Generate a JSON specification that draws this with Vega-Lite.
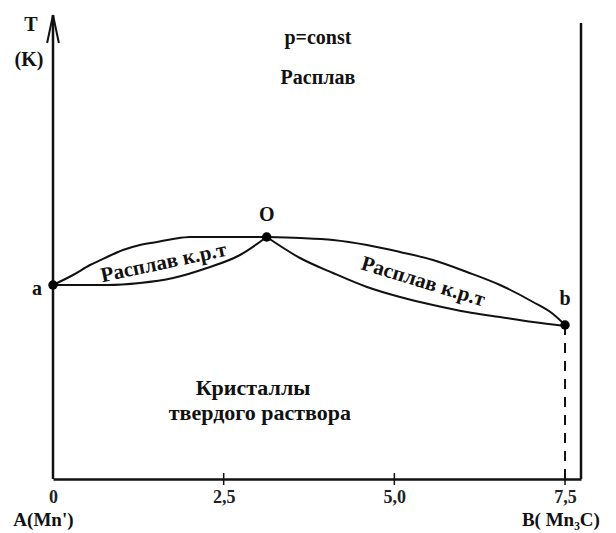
{
  "$schema": "https://vega.github.io/schema/vega-lite/v6.json",
  "width": 528,
  "height": 464,
  "autosize": "none",
  "padding": {"left": 53, "top": 15, "right": 35, "bottom": 54},
  "background": "white",
  "config": {"view": {"stroke": null}, "font": "Liberation Serif"},
  "datasets": {
    "curves": [
      {"curve": "upperL", "i": 0, "x": 0, "T": 194},
      {"curve": "upperL", "i": 1, "x": 0.293, "T": 204},
      {"curve": "upperL", "i": 2, "x": 0.542, "T": 214},
      {"curve": "upperL", "i": 3, "x": 0.791, "T": 222},
      {"curve": "upperL", "i": 4, "x": 1.025, "T": 229},
      {"curve": "upperL", "i": 5, "x": 1.274, "T": 234},
      {"curve": "upperL", "i": 6, "x": 1.523, "T": 237},
      {"curve": "upperL", "i": 7, "x": 1.758, "T": 240},
      {"curve": "upperL", "i": 8, "x": 2.007, "T": 242},
      {"curve": "upperL", "i": 9, "x": 2.256, "T": 242},
      {"curve": "upperL", "i": 10, "x": 2.49, "T": 242},
      {"curve": "upperL", "i": 11, "x": 2.739, "T": 242},
      {"curve": "upperL", "i": 12, "x": 3.13, "T": 242},
      {"curve": "lowerL", "i": 0, "x": 0, "T": 194},
      {"curve": "lowerL", "i": 1, "x": 0.293, "T": 194},
      {"curve": "lowerL", "i": 2, "x": 0.791, "T": 194},
      {"curve": "lowerL", "i": 3, "x": 1.274, "T": 196},
      {"curve": "lowerL", "i": 4, "x": 1.758, "T": 201},
      {"curve": "lowerL", "i": 5, "x": 2.256, "T": 211},
      {"curve": "lowerL", "i": 6, "x": 2.739, "T": 224},
      {"curve": "lowerL", "i": 7, "x": 3.13, "T": 242},
      {"curve": "upperR", "i": 0, "x": 3.13, "T": 242},
      {"curve": "upperR", "i": 1, "x": 3.618, "T": 241},
      {"curve": "upperR", "i": 2, "x": 4.101, "T": 239},
      {"curve": "upperR", "i": 3, "x": 4.599, "T": 234},
      {"curve": "upperR", "i": 4, "x": 5.083, "T": 227},
      {"curve": "upperR", "i": 5, "x": 5.566, "T": 219},
      {"curve": "upperR", "i": 6, "x": 6.064, "T": 207},
      {"curve": "upperR", "i": 7, "x": 6.548, "T": 194},
      {"curve": "upperR", "i": 8, "x": 7.031, "T": 177},
      {"curve": "upperR", "i": 9, "x": 7.324, "T": 165},
      {"curve": "upperR", "i": 10, "x": 7.44, "T": 158},
      {"curve": "upperR", "i": 11, "x": 7.5, "T": 154},
      {"curve": "lowerR", "i": 0, "x": 3.13, "T": 242},
      {"curve": "lowerR", "i": 1, "x": 3.618, "T": 221},
      {"curve": "lowerR", "i": 2, "x": 4.101, "T": 206},
      {"curve": "lowerR", "i": 3, "x": 4.599, "T": 192},
      {"curve": "lowerR", "i": 4, "x": 5.083, "T": 182},
      {"curve": "lowerR", "i": 5, "x": 5.566, "T": 174},
      {"curve": "lowerR", "i": 6, "x": 6.064, "T": 167},
      {"curve": "lowerR", "i": 7, "x": 6.548, "T": 162},
      {"curve": "lowerR", "i": 8, "x": 7.031, "T": 157},
      {"curve": "lowerR", "i": 9, "x": 7.5, "T": 153}
    ],
    "points": [
      {"name": "a", "x": 0, "T": 194},
      {"name": "O", "x": 3.13, "T": 242},
      {"name": "b", "x": 7.5, "T": 154}
    ],
    "frame": [
      {"side": "left", "x": 0, "T0": 0, "T1": 464},
      {"side": "right", "x": 7.734, "T0": 0, "T1": 456}
    ],
    "ticks": [
      {"x": 2.5, "T0": -6, "T1": 6},
      {"x": 5, "T0": -6, "T1": 6},
      {"x": 7.5, "T0": -6, "T1": 6}
    ],
    "dash": [
      {"x": 7.5, "T0": 0, "T1": 154}
    ],
    "arrow": [
      {"x": 0, "T": 450}
    ],
    "labels": [
      {"group": "plain", "text": "T", "x": -0.322, "T": 454},
      {"group": "plain", "text": "(K)", "x": -0.352, "T": 419},
      {"group": "plain", "text": "p=const", "x": 3.88, "T": 441},
      {"group": "plain", "text": "Расплав", "x": 3.88, "T": 401},
      {"group": "plain", "text": "O", "x": 3.13, "T": 264},
      {"group": "plain", "text": "a", "x": -0.234, "T": 190},
      {"group": "plain", "text": "b", "x": 7.5, "T": 180},
      {"group": "bottom", "text": "A(Mn')", "x": -0.14, "T": -41},
      {"group": "bottom", "text": "B( Mn₃C)", "x": 7.44, "T": -41},
      {"group": "big", "text": "Кристаллы", "x": 2.93, "T": 91},
      {"group": "big", "text": "твердого раствора", "x": 3.03, "T": 66},
      {"group": "left", "text": "Расплав к.р.т", "x": 1.62, "T": 216},
      {"group": "right", "text": "Расплав к.р.т", "x": 5.42, "T": 197}
    ]
  },
  "layer": [
    {
      "data": {"name": "frame"},
      "mark": {"type": "rule", "strokeWidth": 2.5, "color": "#111"},
      "encoding": {
        "x": {"field": "x", "type": "quantitative", "scale": {"domain": [0, 7.734], "nice": false, "zero": false},
          "axis": {"values": [0, 2.5, 5, 7.5], "labelExpr": "datum.value == 0 ? '0' : replace(format(datum.value, '.1f'), '.', ',')",
            "title": null, "grid": false, "ticks": false, "domainColor": "#111", "domainWidth": 2.5,
            "labelFont": "Liberation Serif", "labelFontSize": 18, "labelFontWeight": "bold", "labelColor": "#222", "labelPadding": 9, "labelFlush": false}},
        "y": {"field": "T0", "type": "quantitative", "scale": {"domain": [0, 464], "nice": false, "zero": false}, "axis": null},
        "y2": {"field": "T1"}
      }
    },
    {
      "data": {"name": "ticks"},
      "mark": {"type": "rule", "strokeWidth": 1.5, "color": "#111"},
      "encoding": {
        "x": {"field": "x", "type": "quantitative"},
        "y": {"field": "T0", "type": "quantitative"},
        "y2": {"field": "T1"}
      }
    },
    {
      "data": {"name": "dash"},
      "mark": {"type": "rule", "strokeWidth": 2, "color": "#111", "strokeDash": [10, 8]},
      "encoding": {
        "x": {"field": "x", "type": "quantitative"},
        "y": {"field": "T0", "type": "quantitative"},
        "y2": {"field": "T1"}
      }
    },
    {
      "data": {"name": "curves"},
      "mark": {"type": "line", "interpolate": "monotone", "strokeWidth": 2, "color": "#111"},
      "encoding": {
        "x": {"field": "x", "type": "quantitative"},
        "y": {"field": "T", "type": "quantitative"},
        "detail": {"field": "curve"},
        "order": {"field": "i"}
      }
    },
    {
      "data": {"name": "points"},
      "mark": {"type": "point", "filled": true, "size": 90, "color": "#000", "opacity": 1},
      "encoding": {
        "x": {"field": "x", "type": "quantitative"},
        "y": {"field": "T", "type": "quantitative"}
      }
    },
    {
      "data": {"name": "arrow"},
      "mark": {"type": "point", "shape": "M0,-1L-0.42,1M0,-1L0.42,1M0,-1L0,1", "size": 784, "filled": false, "stroke": "#111", "strokeWidth": 2, "opacity": 1},
      "encoding": {
        "x": {"field": "x", "type": "quantitative"},
        "y": {"field": "T", "type": "quantitative"}
      }
    },
    {
      "data": {"name": "labels"},
      "transform": [{"filter": "datum.group == 'plain'"}],
      "mark": {"type": "text", "font": "Liberation Serif", "fontSize": 20, "fontWeight": "bold", "color": "#111", "baseline": "middle", "align": "center"},
      "encoding": {
        "x": {"field": "x", "type": "quantitative"},
        "y": {"field": "T", "type": "quantitative"},
        "text": {"field": "text"}
      }
    },
    {
      "data": {"name": "labels"},
      "transform": [{"filter": "datum.group == 'bottom'"}],
      "mark": {"type": "text", "font": "Liberation Serif", "fontSize": 19, "fontWeight": "bold", "color": "#111", "baseline": "middle", "align": "center"},
      "encoding": {
        "x": {"field": "x", "type": "quantitative"},
        "y": {"field": "T", "type": "quantitative"},
        "text": {"field": "text"}
      }
    },
    {
      "data": {"name": "labels"},
      "transform": [{"filter": "datum.group == 'big'"}],
      "mark": {"type": "text", "font": "Liberation Serif", "fontSize": 22, "fontWeight": "bold", "color": "#111", "baseline": "middle", "align": "center"},
      "encoding": {
        "x": {"field": "x", "type": "quantitative"},
        "y": {"field": "T", "type": "quantitative"},
        "text": {"field": "text"}
      }
    },
    {
      "data": {"name": "labels"},
      "transform": [{"filter": "datum.group == 'left'"}],
      "mark": {"type": "text", "font": "Liberation Serif", "fontSize": 21, "fontWeight": "bold", "color": "#111", "baseline": "middle", "align": "center", "angle": -12},
      "encoding": {
        "x": {"field": "x", "type": "quantitative"},
        "y": {"field": "T", "type": "quantitative"},
        "text": {"field": "text"}
      }
    },
    {
      "data": {"name": "labels"},
      "transform": [{"filter": "datum.group == 'right'"}],
      "mark": {"type": "text", "font": "Liberation Serif", "fontSize": 21, "fontWeight": "bold", "color": "#111", "baseline": "middle", "align": "center", "angle": 17},
      "encoding": {
        "x": {"field": "x", "type": "quantitative"},
        "y": {"field": "T", "type": "quantitative"},
        "text": {"field": "text"}
      }
    }
  ]
}
